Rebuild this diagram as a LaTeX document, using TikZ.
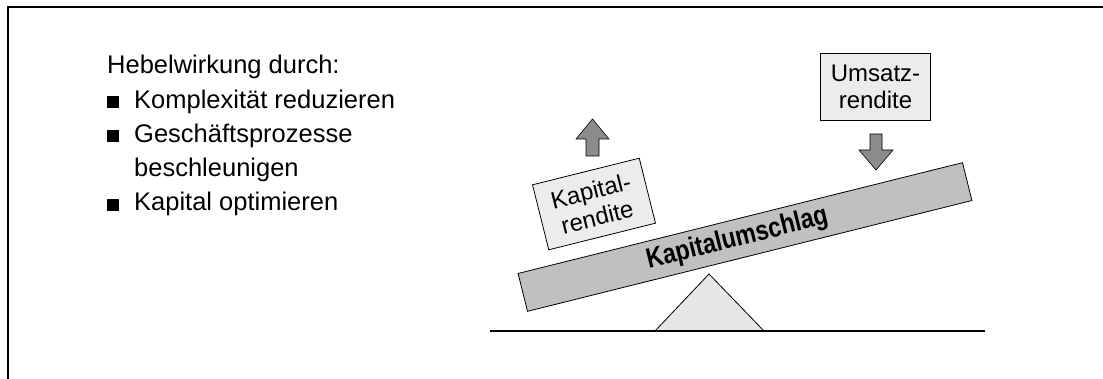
\documentclass[tikz,border=0pt]{standalone}
\usepackage{fontspec}
\setmainfont{Liberation Sans}
\newfontfamily\beamfont{Liberation Sans}[FakeStretch=0.83]
\definecolor{boxgray}{HTML}{ECECEC}
\definecolor{arrowgray}{HTML}{8C8C8C}
\definecolor{beamgray}{HTML}{C0C0C0}
\definecolor{trigray}{HTML}{E6E6E6}
\begin{document}
\begin{tikzpicture}[x=1pt,y=-1pt,
  txt/.style={inner sep=0pt, anchor=base west, font=\fontsize{25.5}{30}\selectfont},
  labelbox/.style={draw, line width=0.8pt, fill=boxgray, minimum width=110pt, minimum height=67pt, inner sep=0pt, align=center, font=\fontsize{24}{27}\selectfont},
  beambox/.style={draw, line width=0.8pt, fill=beamgray, minimum width=458pt, minimum height=39pt, inner sep=0pt, rotate=14, font=\beamfont\bfseries\fontsize{28}{30}\selectfont},
  blockarrow/.style={draw, line width=0.6pt, fill=arrowgray},
  frameline/.style={line width=2pt},
]
\useasboundingbox (0,0) rectangle (1103,379);
% frame
\coordinate (fr) at (1103,7);
\coordinate (fc) at (8,7);
\coordinate (fb) at (8,379);
\draw[frameline] (fr) -- (fc) -- (fb);
% left text
\node[txt] (head) at (107,74) {Hebelwirkung durch:};
\node[txt] (b1) at (107,108.25) {\rule{12pt}{12pt}\hspace{15pt}Komplexität reduzieren};
\node[txt] (b2) at (107,142.5) {\rule{12pt}{12pt}\hspace{15pt}Geschäftsprozesse};
\node[txt] (b2b) at (134,176.75) {beschleunigen};
\node[txt] (b3) at (107,211) {\rule{12pt}{12pt}\hspace{15pt}Kapital optimieren};
% seesaw
\draw[line width=0.8pt, fill=trigray] (655,331) -- (709,274) -- (764,331) -- cycle;
\coordinate (gl) at (490,331);
\coordinate (gr) at (985,331);
\draw[line width=1.2pt] (gl) -- (gr);
\node[beambox] (beam) at (745,237) {Kapitalumschlag\hspace*{16pt}};
% boxes
\node[labelbox, rotate=14] (kr) at (594,204) {Kapital-\\rendite};
\node[labelbox] (ur) at (875.5,86.5) {Umsatz-\\rendite};
% arrows
\draw[blockarrow] (592.5,119) -- (609,139) -- (599,139) -- (599,156) -- (586,156) -- (586,139) -- (576,139) -- cycle;
\draw[blockarrow] (870,134) -- (882,134) -- (882,150) -- (893,150) -- (876,170) -- (859,150) -- (870,150) -- cycle;
\end{tikzpicture}
\end{document}
